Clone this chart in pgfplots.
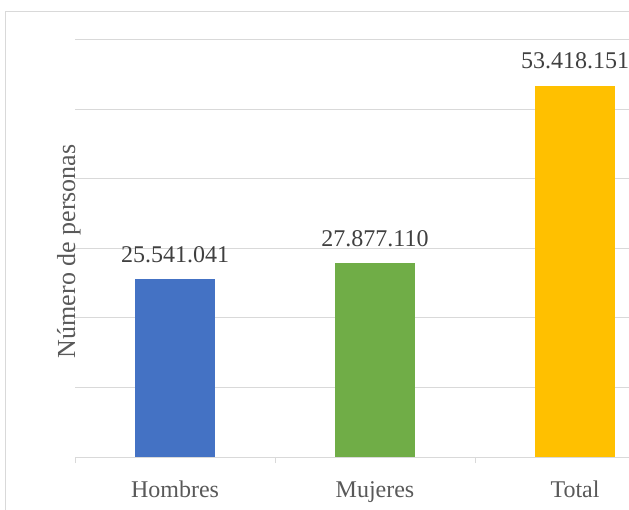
\documentclass[border=0pt]{standalone}
\usepackage{fontspec}
\setmainfont{Liberation Serif}
\newfontfamily\tnr{Liberation Serif}
\usepackage{pgfplots}
\pgfplotsset{compat=1.18}
\definecolor{gridgray}{HTML}{D9D9D9}
\definecolor{txtgray}{HTML}{595959}
\definecolor{lbl}{HTML}{404040}
\definecolor{cblue}{HTML}{4472C4}
\definecolor{cgreen}{HTML}{70AD47}
\definecolor{cgold}{HTML}{FFC000}
\begin{document}
\tnr\fontsize{24bp}{28bp}\selectfont
\begin{tikzpicture}[font=\tnr]
\useasboundingbox (0,0) rectangle (629bp,510bp);
\draw[gridgray, line width=1bp] (5.5bp,0) -- (5.5bp,498.5bp) -- (629bp,498.5bp);
\begin{axis}[
  at={(75bp,53bp)}, anchor=south west,
  scale only axis, width=554bp, height=417bp,
  xmin=-0.5, xmax=2.27, ymin=0, ymax=60000000,
  scaled y ticks=false,
  axis lines*=left,
  x axis line style={draw=gridgray, line width=1bp},
  y axis line style={draw=none},
  ytick={0,10000000,20000000,30000000,40000000,50000000,60000000},
  yticklabels={},
  ymajorgrids, grid style={draw=gridgray, line width=1bp},
  major y tick style={draw=none},
  xtick={0,1,2}, xticklabels={Hombres,Mujeres,Total},
  major x tick style={draw=none},
  extra x ticks={-0.5,0.5,1.5}, extra x tick labels={},
  extra x tick style={grid=none, major tick length=6bp, tick align=outside, major x tick style={draw=gridgray, line width=1bp}},
  xticklabel style={anchor=base, yshift=-36bp, text=txtgray, font=\tnr\fontsize{24bp}{28bp}\selectfont},
  ylabel={Número de personas},
  ylabel style={at={(axis description cs:0,0.51)}, anchor=base, xshift=-7bp, text=txtgray, font=\tnr\fontsize{26bp}{28bp}\selectfont},
  ybar, bar width=0.4, bar shift=0pt,
  nodes near coords,
  point meta=explicit symbolic,
  nodes near coords style={anchor=base, yshift=17bp, inner sep=0pt, text=lbl, font=\tnr\fontsize{24bp}{28bp}\selectfont},
]
\addplot[fill=cblue, draw=none] coordinates {(0,25541041) [25.541.041]};
\addplot[fill=cgreen, draw=none] coordinates {(1,27877110) [27.877.110]};
\addplot[fill=cgold, draw=none] coordinates {(2,53418151) [53.418.151]};
\end{axis}
\end{tikzpicture}
\end{document}
